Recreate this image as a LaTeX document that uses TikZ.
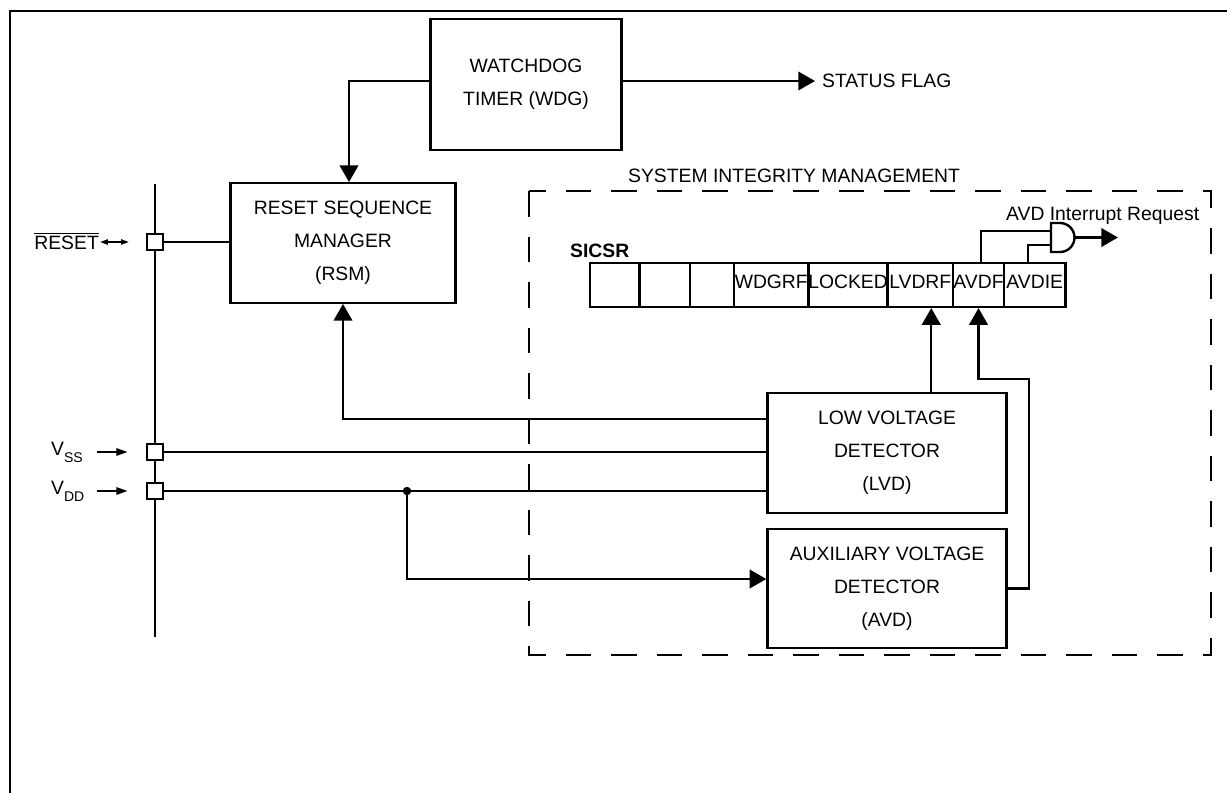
\documentclass[tikz,border=0pt]{standalone}
\usepackage{fontspec}
\setmainfont{Liberation Sans}
\usetikzlibrary{arrows.meta,calc,positioning}
\tikzset{>={Triangle[length=9.5pt,width=10.5pt]}}
\tikzset{
  blk/.style={draw,inner sep=0pt,align=center,font=\fontsize{11}{18.7}\selectfont},
  padbox/.style={draw,fill=white,minimum size=9pt,inner sep=0pt},
  regcell/.style={draw,inner sep=0pt,minimum height=24.9pt,text height=7.9pt,text depth=3.8pt,font=\fontsize{11}{13}\selectfont},
  lbl/.style={inner sep=0pt,font=\fontsize{11}{13}\selectfont},
  sml/.style={-{Triangle[length=6.5pt,width=4pt]}},
  dbl/.style={{Triangle[length=4.5pt,width=3pt]}-{Triangle[length=4.5pt,width=3pt]}},
}

\begin{document}
\begin{tikzpicture}[x=0.02cm,y=-0.02cm,line width=1.35pt]
\useasboundingbox (0,0) rectangle (1227,792);
\clip (0,0) rectangle (1227,792);

\draw[line width=1.4pt] (10,800) -- (10,11) -- (1240,11);

\node[blk,minimum width=108.8pt,minimum height=74.3pt] (wdg) at (526,84.5) {WATCHDOG\\TIMER (WDG)};
\node[blk,minimum width=128.1pt,minimum height=68pt] (rsm) at (343,243) {RESET SEQUENCE\\MANAGER\\(RSM)};
\node[blk,minimum width=136pt,minimum height=68pt] (lvd) at (887,453) {LOW VOLTAGE\\DETECTOR\\(LVD)};
\node[blk,minimum width=136pt,minimum height=67.5pt] (avd) at (887,588.5) {AUXILIARY VOLTAGE\\DETECTOR\\(AVD)};

% system integrity management
\draw[dash pattern=on 14.6pt off 11.3pt] (529,191) rectangle (1211,655);
\node[lbl,anchor=base west] (simlbl) at (627,182) {SYSTEM INTEGRITY MANAGEMENT};
\node[lbl,anchor=base west,font=\fontsize{11}{13}\selectfont\bfseries] (sicsr) at (569,257) {SICSR};
\foreach \nm/\xa/\xb/\txt in {ca/590/639.5/,cb/639.5/690/,cc/690/734/,wdgrf/734/808.5/WDGRF,locked/808.5/887.5/LOCKED,lvdrf/887.5/953/LVDRF,avdf/953/1004/AVDF,avdie/1004/1065.5/AVDIE}
  \node[regcell,minimum width={(\xb-\xa)*0.5669pt}] (\nm) at ({(\xa+\xb)/2},285) {\txt};

% pins
\draw (155,184) -- (155,637);
\node[padbox] (rstpad) at (155,242) {};
\node[padbox] (vsspad) at (155,452) {};
\node[padbox] (vddpad) at (155,491) {};
\node[lbl,anchor=base east] (rstlbl) at (100,249) {$\overline{\mbox{RESET}}$};
\node[lbl,anchor=base west] (vsslbl) at (50,455) {V\raisebox{-4pt}{\fontsize{8}{8}\selectfont SS}};
\node[lbl,anchor=base west] (vddlbl) at (50,494) {V\raisebox{-4pt}{\fontsize{8}{8}\selectfont DD}};
\draw[dbl,line width=0.9pt] (rstlbl.base east |- rstpad) -- ($(rstpad.west)+(-17,0)$);
\draw[sml] ($(vsslbl.east |- vsspad)+(13,0)$) -- ($(vsspad.west)+(-18,0)$);
\draw[sml] ($(vddlbl.east |- vddpad)+(11,0)$) -- ($(vddpad.west)+(-18,0)$);

\draw (rstpad) -- (rstpad -| rsm.west);
\draw (vsspad) -- (vsspad -| lvd.west);
\draw (vddpad) -- (vddpad -| lvd.west);
\coordinate (jn) at (407,491);
\fill (jn) circle (2.4pt);
\draw[->] (jn) |- ($(avd.west)+(0,-9.5)$);
\draw[->] ($(lvd.west)+(0,-34)$) -| (rsm.south);

% watchdog
\draw[->] ($(wdg.west)+(0,-3.5)$) -| ($(rsm.north)+(6,0)$);
\coordinate (flag) at (815,81);
\draw[->] ($(wdg.east)+(0,-3.5)$) -- (flag);
\node[lbl,anchor=west] (flaglbl) at ($(flag)+(6,0)$) {STATUS FLAG};

% flags
\coordinate (lvdin) at ($(lvdrf.south)+(11,0)$);
\draw[->] (lvd.north -| lvdin) -- (lvdin);
\coordinate (avdr) at (1029,379);
\draw[->] (avd.east) -| (avdr) -| (avdf.south);

% interrupt gate
\coordinate (gin1) at (1051,231);
\coordinate (gin2) at (1051,245);
\coordinate (gout) at (1074.5,237.5);
\coordinate (irq) at (1118,237.5);
\draw (1051,223) -- (1060,223) arc[start angle=-90,end angle=90,radius=14.5] -- (1051,252) -- cycle;
\draw ($(avdf.north)+(2.5,0)$) |- (gin1);
\draw ($(avdie.north)+(-6.5,0)$) |- (gin2);
\draw[->] (gout) -- (irq);
\node[lbl,anchor=base west] (irqlbl) at (1005,220) {AVD Interrupt Request};

\end{tikzpicture}
\end{document}
